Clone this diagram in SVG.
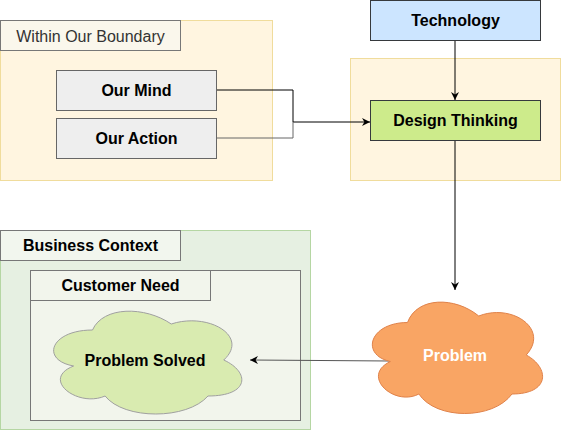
<svg xmlns="http://www.w3.org/2000/svg" width="561" height="431" viewBox="0 0 561 431">
<defs>
<style>
text{font-family:"Liberation Sans",Arial,sans-serif;font-size:16px;text-anchor:middle;dominant-baseline:central;fill:#000}
.b{font-weight:bold}
.edge{fill:none;stroke:#000;stroke-width:1}
</style>
<marker id="arr" viewBox="0 0 10 10" refX="10" refY="5" markerWidth="8" markerHeight="8" markerUnits="userSpaceOnUse" orient="auto">
<path d="M0,0 L10,5 L0,10 L3,5 Z" fill="#000"/>
</marker>
</defs>
<rect width="561" height="431" fill="#fff"/>
<g id="boundary">
<rect x="0.5" y="20.5" width="272" height="160" fill="#fff5e0" stroke="#f0dc9c"/>
<rect x="0.5" y="20.5" width="180" height="30" fill="#faf7ec" stroke="#777"/>
<text x="90.5" y="36" fill="#333" style="fill:#333">Within Our Boundary</text>
</g>
<g id="right-container">
<rect x="350.5" y="58.5" width="210" height="122" fill="#fff5e0" stroke="#f0dc9c"/>
</g>
<g id="business">
<rect x="0.5" y="230.5" width="310" height="199" fill="#e6f0e2" stroke="#b5d6a3"/>
<rect x="0.5" y="230.5" width="180" height="30" fill="#f2f6ee" stroke="#777"/>
<text class="b" x="90.5" y="245">Business Context</text>
</g>
<g id="customer">
<rect x="30.5" y="270.5" width="270" height="150" fill="#f2f5ec" stroke="#777"/>
<rect x="30.5" y="270.5" width="180" height="30" fill="#f2f5ec" stroke="#777"/>
<text class="b" x="120.5" y="285">Customer Need</text>
</g>
<g id="connectors">
<polyline class="edge" points="216,90 293,90 293,122 370,122" marker-end="url(#arr)"/>
<polyline class="edge" points="216,138 293,138 293,122" style="stroke:#666"/>
<line class="edge" x1="455" y1="40" x2="455" y2="100" marker-end="url(#arr)"/>
<line class="edge" x1="455" y1="140" x2="455" y2="290" marker-end="url(#arr)"/>
<line class="edge" x1="390" y1="361" x2="250" y2="360" style="stroke:#555" marker-end="url(#arr)"/>
</g>
<g id="our-mind">
<rect x="56.5" y="70.5" width="160" height="40" fill="#eeeeee" stroke="#666"/>
<text class="b" x="136.5" y="90.5">Our Mind</text>
</g>
<g id="our-action">
<rect x="56.5" y="118.5" width="160" height="40" fill="#eeeeee" stroke="#666"/>
<text class="b" x="136.5" y="138.5">Our Action</text>
</g>
<g id="technology">
<rect x="370.5" y="0.5" width="170" height="40" fill="#cce5ff" stroke="#36393d"/>
<text class="b" x="455.5" y="20.5">Technology</text>
</g>
<g id="design-thinking">
<rect x="370.5" y="100.5" width="170" height="40" fill="#cdeb8b" stroke="#36393d"/>
<text class="b" x="455.5" y="120.5">Design Thinking</text>
</g>
<g id="problem">
<path d="M407.5,322.5 C369.5,322.5 360,355 390.4,361.5 C360,375.8 394.2,407 418.9,394 C436,420 493,420 512,394 C550,394 550,368 526.25,355 C550,329 512,303 478.75,316 C455,296.5 417,296.5 407.5,322.5 Z" fill="#f9a564" stroke="#e0824a"/>
<text class="b" x="455" y="355" style="fill:#fff">Problem</text>
</g>
<g id="problem-solved">
<path d="M92.5,330 C50.5,330 40,360 73.6,366 C40,379.2 77.8,408 105.1,396 C124,420 187,420 208,396 C250,396 250,372 223.75,360 C250,336 208,312 171.25,324 C145,306 103,306 92.5,330 Z" fill="#d9ebb0" stroke="#a0a0a0"/>
<text class="b" x="145" y="360">Problem Solved</text>
</g>
</svg>
